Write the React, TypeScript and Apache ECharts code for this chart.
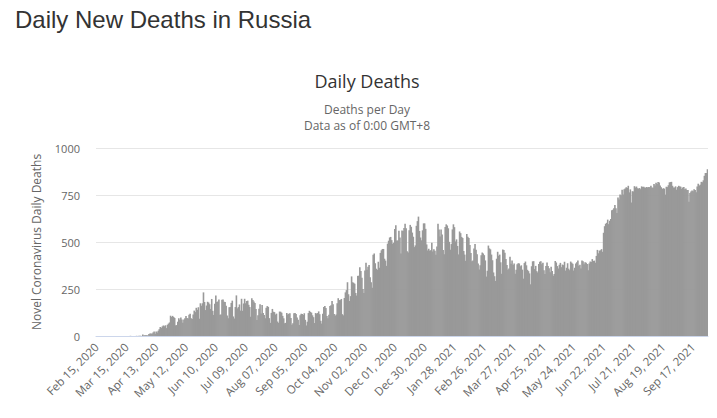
import React, { useEffect, useRef } from "react";
import * as echarts from "echarts";

const startDate = "2020-02-15";
const pageTitle = "Daily New Deaths in Russia";
const chartTitle = "Daily Deaths";
const subtitleLines = ["Deaths per Day", "Data as of 0:00 GMT+8"];
const yAxisTitle = "Novel Coronavirus Daily Deaths";
const yTicks = [0, 250, 500, 750, 1000];

const deathsFeb2020 = [0, 0, 0, 0, 0, 0, 0, 0, 0, 0, 0, 0, 0, 0, 0];
const deathsMar2020 = [0, 0, 0, 0, 0, 0, 0, 0, 0, 0, 0, 0, 0, 0, 0, 0, 0, 0, 1, 0, 0, 0, 0, 0, 1, 0, 1, 1, 1, 0, 8];
const deathsApr2020 = [2, 4, 4, 4, 2, 11, 13, 13, 12, 18, 24, 12, 24, 19, 28, 36, 48, 43, 51, 56, 52, 57, 42, 60, 66, 72, 108, 101, 107, 101];
const deathsMay2020 = [96, 57, 58, 76, 95, 86, 98, 88, 70, 88, 94, 107, 96, 93, 113, 119, 94, 91, 115, 135, 127, 150, 139, 153, 92, 174, 161, 174, 232, 181, 138];
const deathsJun2020 = [162, 182, 178, 169, 144, 197, 134, 112, 171, 216, 181, 184, 194, 113, 114, 193, 194, 182, 181, 161, 109, 95, 153, 154, 176, 188, 104, 93, 154, 216];
const deathsJul2020 = [147, 154, 168, 135, 198, 134, 173, 198, 174, 186, 188, 166, 154, 102, 201, 191, 183, 175, 143, 85, 111, 145, 169, 120, 165, 122, 112, 94, 150, 159, 155];
const deathsAug2020 = [95, 70, 123, 144, 129, 127, 114, 119, 77, 70, 130, 129, 124, 107, 94, 68, 70, 122, 115, 119, 121, 96, 60, 68, 121, 123, 117, 98, 86, 58, 110];
const deathsSep2020 = [119, 117, 112, 121, 86, 56, 76, 122, 134, 128, 124, 110, 100, 69, 122, 119, 122, 131, 116, 81, 66, 119, 154, 160, 149, 107, 94, 113, 160, 163];
const deathsOct2020 = [186, 169, 117, 108, 114, 174, 201, 191, 191, 197, 116, 110, 202, 232, 244, 286, 222, 186, 212, 317, 286, 283, 278, 229, 215, 320, 320, 366, 346, 310, 250];
const deathsNov2020 = [229, 349, 389, 353, 368, 378, 313, 286, 256, 432, 439, 387, 358, 352, 395, 363, 442, 456, 463, 463, 411, 401, 373, 491, 507, 524, 527, 510, 491, 496];
const deathsDec2020 = [569, 589, 508, 508, 560, 524, 439, 561, 559, 575, 597, 573, 451, 444, 562, 591, 581, 550, 528, 473, 482, 586, 611, 635, 559, 524, 509, 562, 599, 599, 570];
const deathsJan2021 = [487, 455, 464, 454, 456, 496, 450, 462, 453, 432, 476, 597, 566, 529, 567, 540, 457, 435, 580, 594, 588, 573, 501, 459, 489, 567, 594, 579, 503, 514, 479];
const deathsFeb2021 = [434, 556, 547, 527, 521, 452, 433, 400, 543, 528, 521, 484, 441, 398, 401, 465, 489, 459, 435, 386, 354, 376, 429, 444, 439, 430, 402, 316];
const deathsMar2021 = [347, 481, 466, 461, 433, 403, 338, 318, 293, 411, 448, 427, 433, 392, 331, 460, 458, 443, 410, 377, 352, 359, 421, 384, 402, 378, 386, 331, 352, 382, 387];
const deathsApr2021 = [386, 371, 376, 353, 305, 388, 396, 376, 352, 345, 333, 275, 371, 397, 398, 356, 373, 345, 338, 383, 395, 397, 381, 390, 350, 330, 373, 391, 372, 361];
const deathsMay2021 = [339, 368, 346, 320, 330, 399, 391, 372, 359, 379, 389, 366, 380, 377, 395, 348, 363, 387, 358, 350, 396, 390, 384, 348, 363, 386, 392, 402, 374, 379, 359];
const deathsJun2021 = [402, 397, 382, 392, 389, 383, 350, 386, 396, 394, 409, 399, 401, 390, 426, 458, 440, 454, 456, 462, 448, 549, 584, 597, 602, 619, 595, 613, 622, 669];
const deathsJul2021 = [672, 679, 697, 679, 654, 737, 726, 752, 749, 778, 752, 780, 785, 791, 788, 799, 764, 780, 710, 770, 769, 797, 790, 795, 786, 784, 787, 781, 796, 793, 794];
const deathsAug2021 = [790, 789, 792, 790, 793, 791, 799, 790, 788, 808, 800, 815, 808, 819, 817, 800, 791, 782, 786, 784, 752, 794, 792, 802, 817, 819, 820, 799, 790, 790, 796];
const deathsSep2021 = [778, 792, 799, 796, 794, 783, 790, 792, 780, 784, 777, 776, 714, 760, 768, 774, 770, 780, 776, 765, 795, 810, 800, 805, 820, 818, 828, 852, 867, 867];
const deathsOct2021 = [887];

const monthlyDeaths = [
  deathsFeb2020, deathsMar2020, deathsApr2020, deathsMay2020, deathsJun2020, deathsJul2020,
  deathsAug2020, deathsSep2020, deathsOct2020, deathsNov2020, deathsDec2020, deathsJan2021,
  deathsFeb2021, deathsMar2021, deathsApr2021, deathsMay2021, deathsJun2021, deathsJul2021,
  deathsAug2021, deathsSep2021, deathsOct2021,
];

const MONTHS = ["Jan", "Feb", "Mar", "Apr", "May", "Jun", "Jul", "Aug", "Sep", "Oct", "Nov", "Dec"];

function buildCategories(count: number): string[] {
  const out: string[] = [];
  const d = new Date(startDate + "T00:00:00Z");
  for (let i = 0; i < count; i++) {
    out.push(`${MONTHS[d.getUTCMonth()]} ${String(d.getUTCDate()).padStart(2, "0")}, ${d.getUTCFullYear()}`);
    d.setUTCDate(d.getUTCDate() + 1);
  }
  return out;
}

const CHART_FONT = "'Open Sans', 'DejaVu Sans', sans-serif";

export default function App() {
  const ref = useRef<HTMLDivElement>(null);
  useEffect(() => {
    document.body.style.margin = "0";
    if (!ref.current) return;
    const chart = echarts.init(ref.current, undefined, { renderer: "svg" });
    const values = ([] as number[]).concat(...monthlyDeaths);
    const categories = buildCategories(values.length);
    chart.setOption({
      animation: false,
      backgroundColor: "#ffffff",
      graphic: [
        {
          type: "text",
          left: 15,
          top: 7,
          style: { text: pageTitle, font: "24px 'Liberation Sans', Arial, sans-serif", fill: "#333333" },
        },
        {
          type: "text",
          x: 367,
          y: 81,
          style: { text: chartTitle, font: "18px " + CHART_FONT, fill: "#333333", textAlign: "center", textVerticalAlign: "middle" },
        },
        {
          type: "text",
          x: 367,
          y: 109,
          style: { text: subtitleLines[0], font: "12px " + CHART_FONT, fill: "#666666", textAlign: "center", textVerticalAlign: "middle" },
        },
        {
          type: "text",
          x: 367,
          y: 125,
          style: { text: subtitleLines[1], font: "12px " + CHART_FONT, fill: "#666666", textAlign: "center", textVerticalAlign: "middle" },
        },
      ],
      grid: { left: 96, right: 9, top: 148, bottom: 82, containLabel: false },
      xAxis: {
        type: "category",
        data: categories,
        boundaryGap: true,
        axisLine: { lineStyle: { color: "#ccd6eb" } },
        axisTick: { show: false },
        axisLabel: { interval: 28, rotate: 45, color: "#666666", fontSize: 11.5, fontFamily: CHART_FONT, margin: 9 },
        splitLine: { show: false },
      },
      yAxis: {
        type: "value",
        min: yTicks[0],
        max: yTicks[yTicks.length - 1],
        interval: yTicks[1] - yTicks[0],
        axisLine: { show: false },
        axisTick: { show: false },
        axisLabel: {
          color: "#666666",
          fontSize: 11,
          fontFamily: CHART_FONT,
          margin: 16,
          formatter: (v: number) => String(v),
        },
        splitLine: { lineStyle: { color: "#e6e6e6" } },
        name: yAxisTitle,
        nameLocation: "middle",
        nameGap: 54,
        nameTextStyle: { color: "#666666", fontSize: 12, fontFamily: CHART_FONT },
      },
      series: [
        {
          type: "bar",
          data: values,
          barWidth: 1.6,
          itemStyle: { color: "#999999" },
        },
      ],
    });
    return () => chart.dispose();
  }, []);
  return <div ref={ref} style={{ width: 717, height: 418 }} />;
}
